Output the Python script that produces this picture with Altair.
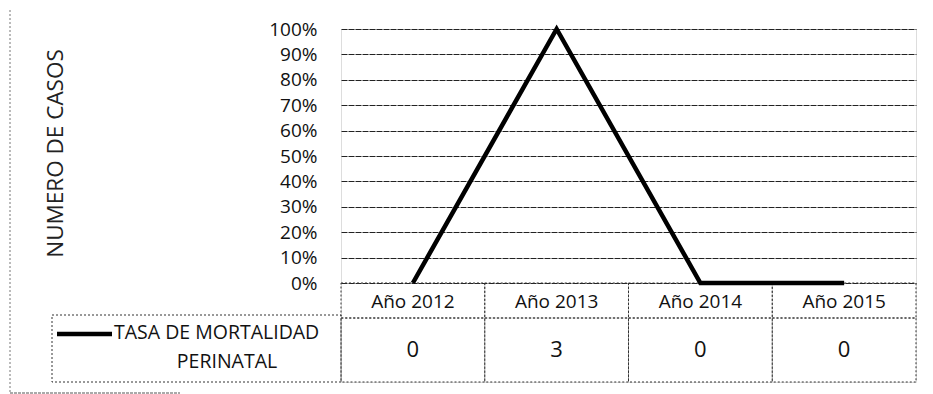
import altair as alt
import pandas as pd

# ---- data ----
years = ["Año 2012", "Año 2013", "Año 2014", "Año 2015"]
casos = [0, 3, 0, 0]
pct_ticks = [0, 10, 20, 30, 40, 50, 60, 70, 80, 90, 100]
series_name = "TASA DE MORTALIDAD"
series_name2 = "PERINATAL"
y_title = "NUMERO DE CASOS"

FONT = "Open Sans"
vmax = max(casos)
tick_values = [p * vmax / 100 for p in pct_ticks]

line_df = pd.DataFrame({"year": years, "casos": casos})

# table cells (header row + data row) built from the arrays
hdr_rows, val_rows = [], []
for y, v in zip(years, casos):
    hdr_rows.append({"year": y, "r0": 0, "r1": 35, "rm": 19, "txt": y})
    val_rows.append({"year": y, "r0": 35, "r1": 99, "rm": 67, "txt": str(v)})
hdr_df = pd.DataFrame(hdr_rows)
val_df = pd.DataFrame(val_rows)
cells_df = pd.concat([hdr_df, val_df], ignore_index=True)

W, H = 575, 353
PLOT_H = 254

xenc = alt.X("year:N", sort=years,
             scale=alt.Scale(type="band", domain=years, paddingInner=0, paddingOuter=0),
             axis=None)

line = alt.Chart(line_df).mark_line(color="black", strokeWidth=4.5, clip=False).encode(
    x=xenc,
    y=alt.Y("casos:Q",
            scale=alt.Scale(domain=[0, vmax], range=[PLOT_H, 0], nice=False, zero=True),
            axis=alt.Axis(values=tick_values,
                          labelExpr=f"format(datum.value / {vmax}, '.0%')",
                          labelFont=FONT, labelFontSize=19, labelColor="#111",
                          labelPadding=24, ticks=False, domain=False,
                          grid=True, gridColor="#222", gridWidth=1.2, gridDash=[6, 1],
                          title=y_title, titleFont=FONT, titleFontSize=22.5,
                          titleFontWeight="normal", titleColor="#222",
                          titleX=-286, titleY=124, titleAngle=-90,
                          titleAlign="center", titleBaseline="middle")),
)

tscale = alt.Scale(domain=[0, 99], range=[PLOT_H, H], nice=False, zero=False)

cells = alt.Chart(cells_df).mark_rect(fill="white", fillOpacity=0, stroke="#333",
                                      strokeWidth=1, strokeDash=[2, 2]).encode(
    x=xenc,
    y=alt.Y("r0:Q", scale=tscale, axis=None),
    y2="r1:Q",
)

hdr_text = alt.Chart(hdr_df).mark_text(font=FONT, fontSize=19, color="#111",
                                       baseline="middle", align="center").encode(
    x=xenc,
    y=alt.Y("rm:Q", scale=tscale, axis=None),
    text="txt:N",
)
val_text = alt.Chart(val_df).mark_text(font=FONT, fontSize=22, color="#111",
                                       baseline="middle", align="center").encode(
    x=xenc,
    y=alt.Y("rm:Q", scale=tscale, axis=None),
    text="txt:N",
)

# legend cell of the data table
one = line_df.head(1)
leg_box = alt.Chart(one).mark_rect(fill="white", fillOpacity=0, stroke="#333",
                                   strokeWidth=1, strokeDash=[2, 2],
                                   clip=False).encode(
    x=alt.value(-289), x2=alt.value(0), y=alt.value(286), y2=alt.value(H))

leg_sym = alt.Chart(one).mark_rule(color="black", strokeWidth=4.5, clip=False).encode(
    x=alt.value(-284), x2=alt.value(-229), y=alt.value(305))

leg_t1 = alt.Chart(one).mark_text(font=FONT, fontSize=19.5, color="#111",
                                  align="left", baseline="middle",
                                  text=series_name, clip=False).encode(
    x=alt.value(-227), y=alt.value(304))
leg_t2 = alt.Chart(one).mark_text(font=FONT, fontSize=19.5, color="#111",
                                  align="center", baseline="middle",
                                  text=series_name2, clip=False).encode(
    x=alt.value(-114), y=alt.value(333))

# outer chart border fragments (scanned frame)
frame_l = alt.Chart(one).mark_rule(color="#777", strokeWidth=1, strokeDash=[2, 2],
                                   clip=False).encode(
    x=alt.value(-331), y=alt.value(-27), y2=alt.value(364))
frame_b = alt.Chart(one).mark_rule(color="#555", strokeWidth=1, strokeDash=[3, 1],
                                   clip=False).encode(
    x=alt.value(-331), x2=alt.value(-161), y=alt.value(364))

chart = alt.layer(cells, line, hdr_text, val_text, leg_box, leg_sym, leg_t1, leg_t2,
                  frame_l, frame_b).resolve_scale(
    y="independent"
).properties(
    width=W, height=H,
    autosize=alt.AutoSizeParams(type="none"),
    padding={"left": 333, "top": 21, "right": 9, "bottom": 12},
).configure_view(stroke=None).configure(background="white")

chart.save("out.html", embed_options={"renderer": "svg", "actions": False})
